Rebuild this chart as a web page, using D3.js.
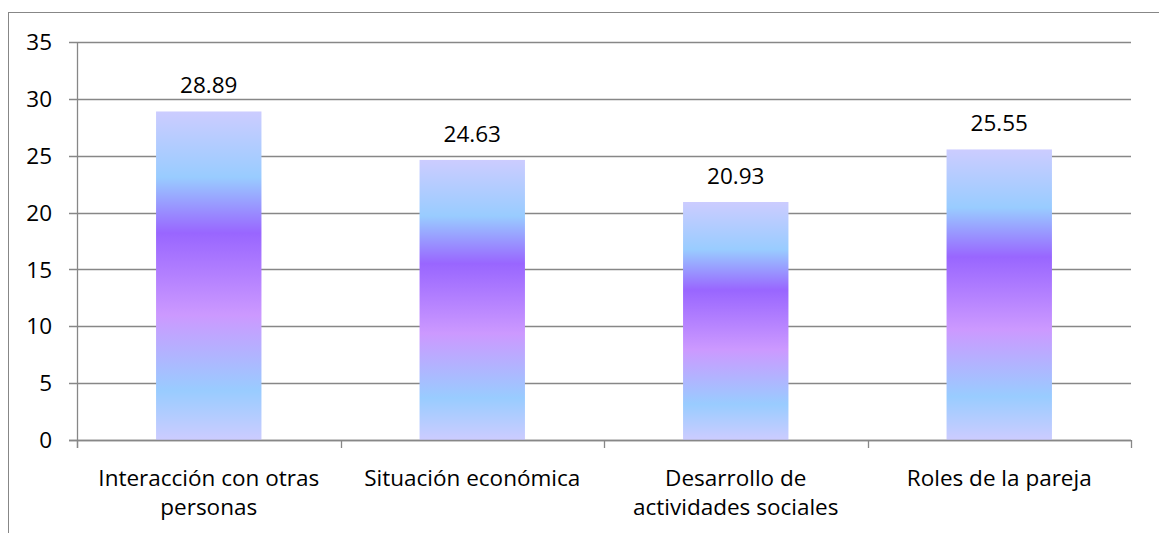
<!DOCTYPE html>
<html><head><meta charset="utf-8">
<script src="https://cdn.jsdelivr.net/npm/d3@7"></script>
<style>body{margin:0;background:#fff;} svg{display:block;} text{font-family:"Open Sans", sans-serif;fill:#000;}</style>
</head><body><svg id="c" width="1159" height="533"></svg>
<script>
const categories = [["Interacción con otras","personas"],["Situación económica"],["Desarrollo de","actividades sociales"],["Roles de la pareja"]];
const values = [28.89, 24.63, 20.93, 25.55];
const yTicks = [0,5,10,15,20,25,30,35];
const gradStops = [[0,"#CCCCFF"],[0.2,"#99CCFF"],[0.37,"#9966FF"],[0.62,"#CC99FF"],[0.85,"#99CCFF"],[1,"#CCCCFF"]];

const svg = d3.select("#c");
const L=77, R=1131, T=42, B=440;
const FS = "22.5px";
svg.append("rect").attr("x",8.5).attr("y",12.5).attr("width",1300).attr("height",700)
  .attr("fill","#fff").attr("stroke","#878787").attr("stroke-width",1);

const x = d3.scaleBand().domain(d3.range(values.length)).range([L,R]).paddingInner(0.6).paddingOuter(0.3);
const xo = d3.scaleBand().domain(d3.range(values.length)).range([L,R]);
const y = d3.scaleLinear().domain([0,35]).range([B,T]);

const defs = svg.append("defs");
values.forEach((v,i)=>{
  const g = defs.append("linearGradient").attr("id","g"+i).attr("x1",0).attr("y1",0).attr("x2",0).attr("y2",1);
  gradStops.forEach(s=>g.append("stop").attr("offset",s[0]).attr("stop-color",s[1]));
});

svg.append("g").selectAll("line").data(yTicks).join("line")
  .attr("x1",L-8).attr("x2",R).attr("y1",d=>Math.round(y(d))+0.5).attr("y2",d=>Math.round(y(d))+0.5)
  .attr("stroke","#878787").attr("stroke-width",1.3);
svg.append("line").attr("x1",L+0.5).attr("x2",L+0.5).attr("y1",T).attr("y2",B+8).attr("stroke","#878787").attr("stroke-width",1.3);
svg.append("g").selectAll("line").data(d3.range(values.length+1)).join("line")
  .attr("x1",d=>Math.round(L+d*xo.bandwidth())+0.5).attr("x2",d=>Math.round(L+d*xo.bandwidth())+0.5)
  .attr("y1",B).attr("y2",B+8).attr("stroke","#878787").attr("stroke-width",1.3);

svg.append("g").selectAll("rect").data(values).join("rect")
  .attr("x",(d,i)=>x(i)).attr("width",x.bandwidth())
  .attr("y",d=>y(d)).attr("height",d=>B-y(d))
  .attr("fill",(d,i)=>`url(#g${i})`);

svg.append("line").attr("x1",L-8).attr("x2",R).attr("y1",B+0.5).attr("y2",B+0.5).attr("stroke","#878787").attr("stroke-width",1.3);

svg.append("g").selectAll("text").data(yTicks).join("text")
  .attr("x",52).attr("y",d=>y(d)).attr("dy","0.36em").attr("text-anchor","end")
  .style("font-size",FS).text(d=>d);

svg.append("g").selectAll("text").data(values).join("text")
  .attr("x",(d,i)=>x(i)+x.bandwidth()/2).attr("y",d=>y(d)-18).attr("text-anchor","middle")
  .style("font-size",FS).text(d=>d.toFixed(2));

categories.forEach((lines,i)=>{
  const t = svg.append("text").attr("x",xo(i)+xo.bandwidth()/2).attr("y",486).attr("text-anchor","middle").style("font-size",FS);
  lines.forEach((ln,j)=>t.append("tspan").attr("x",xo(i)+xo.bandwidth()/2).attr("dy",j?29:0).text(ln));
});
</script></body></html>
